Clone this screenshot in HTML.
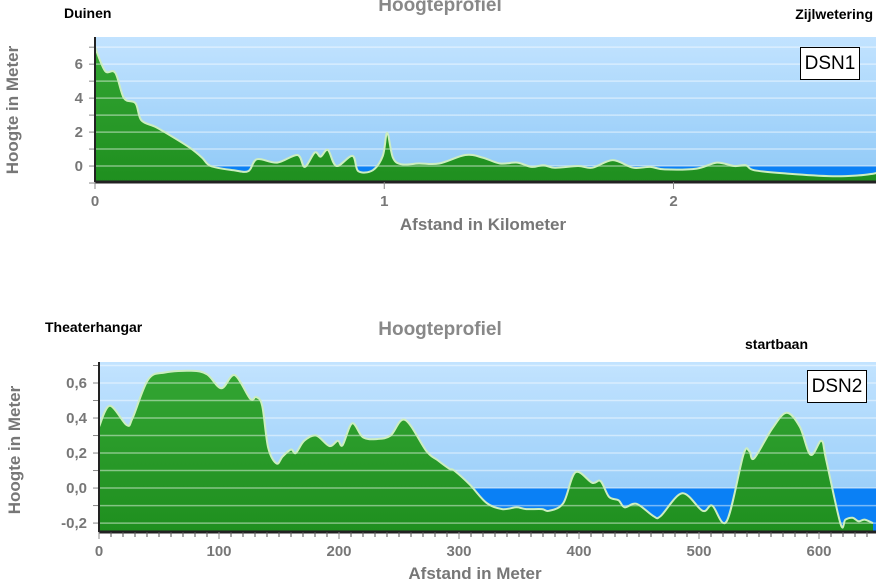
<!DOCTYPE html>
<html><head><meta charset="utf-8"><style>
body{margin:0;background:#fff;font-family:"Liberation Sans",sans-serif}
svg{display:block}
</style></head><body>
<svg id="svg" width="883" height="582" xmlns="http://www.w3.org/2000/svg">
<defs>
<linearGradient id="bg" x1="0" y1="0" x2="0" y2="1"><stop offset="0" stop-color="#c2e3ff"/><stop offset="1" stop-color="#8fc9f7"/></linearGradient>
<linearGradient id="gr" x1="0" y1="0" x2="0" y2="1"><stop offset="0" stop-color="#33a533"/><stop offset="1" stop-color="#1f8f1f"/></linearGradient>
</defs>
</svg>
<script>
// Chart 1 data (km, m)
const dist1=[0,0.035,0.07,0.10,0.14,0.16,0.21,0.27,0.33,0.37,0.40,0.48,0.53,0.56,0.63,0.70,0.725,0.76,0.78,0.805,0.835,0.89,0.91,0.96,0.995,1.01,1.03,1.06,1.12,1.19,1.28,1.34,1.40,1.46,1.51,1.55,1.59,1.67,1.72,1.79,1.86,1.92,1.97,2.08,2.15,2.21,2.25,2.28,2.40,2.55,2.64,2.69,2.70];
const elev1=[7.0,5.6,5.5,4.0,3.7,2.7,2.3,1.7,1.05,0.5,0,-0.25,-0.3,0.4,0.2,0.65,-0.05,0.8,0.55,0.95,0,0.6,-0.3,-0.25,0.6,1.95,0.5,0.1,0.15,0.15,0.65,0.5,0.15,0.2,-0.05,0.05,-0.1,0,-0.1,0.35,-0.1,-0.05,-0.2,-0.15,0.2,0,0.05,-0.25,-0.45,-0.6,-0.55,-0.45,-0.4];
const xTicks1=[0,1,2];
const yTicks1=[0,2,4,6];
// Chart 2 data (m, m)
const dist2=[0,9,23,28,41,55,77,90,102,113,126,131,136,141,148,153,160,164,171,181,192,199,203,211,220,232,243,255,273,282,292,296,309,323,336,348,356,369,375,387,397,411,418,425,433,438,448,462,468,486,503,511,523,537,542,546,561,573,584,593,602,606,618,622,628,633,638,645];
const elev2=[0.35,0.47,0.36,0.40,0.62,0.66,0.67,0.65,0.57,0.645,0.51,0.52,0.47,0.23,0.14,0.18,0.22,0.2,0.27,0.3,0.24,0.27,0.245,0.37,0.29,0.28,0.3,0.39,0.21,0.16,0.11,0.10,0.02,-0.085,-0.12,-0.11,-0.12,-0.12,-0.13,-0.085,0.09,0.03,0.04,-0.05,-0.07,-0.11,-0.09,-0.16,-0.16,-0.03,-0.13,-0.1,-0.19,0.19,0.21,0.17,0.34,0.43,0.35,0.19,0.27,0.16,-0.205,-0.18,-0.17,-0.19,-0.18,-0.2];
const xTicks2=[0,100,200,300,400,500,600];
const yTicks2=[-0.2,0,0.2,0.4,0.6];

const NS="http://www.w3.org/2000/svg", svg=document.getElementById('svg');
function mk(tag,attrs,parent,text){const e=document.createElementNS(NS,tag);for(const k in attrs)e.setAttribute(k,attrs[k]);if(text!=null)e.textContent=text;(parent||svg).appendChild(e);return e;}
function smooth(P){
  let s='';
  for(let i=0;i<P.length-1;i++){
    const p0=P[Math.max(0,i-1)],p1=P[i],p2=P[i+1],p3=P[Math.min(P.length-1,i+2)];
    const c1=[p1[0]+(p2[0]-p0[0])/6,p1[1]+(p2[1]-p0[1])/6];
    const c2=[p2[0]-(p3[0]-p1[0])/6,p2[1]-(p3[1]-p1[1])/6];
    s+=' C'+c1[0].toFixed(1)+','+c1[1].toFixed(1)+' '+c2[0].toFixed(1)+','+c2[1].toFixed(1)+' '+p2[0].toFixed(1)+','+p2[1].toFixed(1);
  }
  return s;
}
function chart(o){
  const X=v=>o.L+(v-o.x0)*(o.R-o.L)/(o.x1-o.x0);
  const Y=v=>o.B-(v-o.y0)*(o.B-o.T)/(o.y1-o.y0);
  const g=mk('g',{});
  
  
  const bg=mk('rect',{x:o.L,y:o.T,width:o.R-o.L,height:o.B-o.T,fill:'url(#bg)'},g);
  
  
  const wat=mk('rect',{x:o.L,y:Y(0),width:o.R-o.L,height:o.B-Y(0),fill:'#0a80f5'},g);
  
  
  const P=o.d.map((d,i)=>[X(d),Y(o.e[i])]);
  const curve='M'+P[0][0].toFixed(1)+','+P[0][1].toFixed(1)+smooth(P);
  const area=mk('path',{d:'M'+P[0][0]+','+o.B+' L'+P[0][0].toFixed(1)+','+P[0][1].toFixed(1)+smooth(P)+' L'+P[P.length-1][0]+','+o.B+' Z',fill:'url(#gr)'},g);
  
  
  for(let v=o.gs;v<=o.y1+1e-9;v+=o.gstep){
    const gl=mk('line',{x1:o.L,x2:o.R,y1:Y(v),y2:Y(v),stroke:'#fff','stroke-opacity':0.45,'stroke-width':1.5},g);
    
    
    const mt=mk('line',{x1:o.L-6,x2:o.L,y1:Y(v),y2:Y(v),stroke:'#888'},g);
    
    
  }
  const ln=mk('path',{d:curve,fill:'none',stroke:'#cdeec0','stroke-width':2},g);
  
  
  const ya=mk('line',{x1:o.L,x2:o.L,y1:o.T,y2:o.B,stroke:'#222','stroke-width':2},g);
  
  
  const xa=mk('line',{x1:o.L,x2:o.R,y1:o.B,y2:o.B,stroke:'#222','stroke-width':3},g);
  
  
  o.yt.forEach(v=>{
    const t=mk('text',{x:o.L-12,y:Y(v)+5,'text-anchor':'end','font-size':15,'font-weight':'bold',fill:'#777'},g,o.fmt(v));
    
    
  });
  if(o.minor){for(let v=o.x0;v<=o.x1;v+=o.minor){
    const mt=mk('line',{x1:X(v),x2:X(v),y1:o.B,y2:o.B+5,stroke:'#555'},g);
    
    
  }}
  o.xt.forEach(v=>{
    const tk=mk('line',{x1:X(v),x2:X(v),y1:o.B,y2:o.B+7,stroke:'#888'},g);
    
    
    const t=mk('text',{x:X(v),y:o.B+24,'text-anchor':'middle','font-size':15,'font-weight':'bold',fill:'#777'},g,String(v));
    
    
  });
}
chart({name:'chart-dsn1',L:95,R:876,T:37,B:182,x0:0,x1:2.70,y0:-0.94,y1:7.6,d:dist1,e:elev1,xt:xTicks1,yt:yTicks1,gs:-1,gstep:1,fmt:v=>String(v)});
chart({name:'chart-dsn2',L:99,R:876,T:362,B:532,x0:0,x1:647.5,y0:-0.251,y1:0.72,d:dist2,e:elev2,xt:xTicks2,yt:yTicks2,gs:-0.2,gstep:0.1,minor:10,fmt:v=>v.toFixed(1).replace('.',',')});
</script>
<div style="position:absolute;left:0;top:0;width:883px;height:582px;pointer-events:none">
<div style="position:absolute;left:340px;top:-5px;width:200px;text-align:center;font-size:19px;font-weight:bold;color:#888">Hoogteprofiel</div>
<div style="position:absolute;left:64px;top:5px;font-size:14px;font-weight:bold;color:#000">Duinen</div>
<div style="position:absolute;right:10px;top:6px;font-size:14px;font-weight:bold;color:#000">Zijlwetering</div>
<div style="position:absolute;left:800px;top:47px;width:58px;height:31px;border:1px solid #000;background:#fff;font-size:19px;line-height:31px;text-align:center;color:#000">DSN1</div>
<div style="position:absolute;left:333px;top:215px;width:300px;text-align:center;font-size:17px;font-weight:bold;color:#777">Afstand in Kilometer</div>
<div style="position:absolute;left:-62px;top:100px;width:150px;text-align:center;font-size:17px;font-weight:bold;color:#777;transform:rotate(-90deg)">Hoogte in Meter</div>
<div style="position:absolute;left:340px;top:319px;width:200px;text-align:center;font-size:19px;font-weight:bold;color:#888">Hoogteprofiel</div>
<div style="position:absolute;left:45px;top:319px;font-size:14px;font-weight:bold;color:#000">Theaterhangar</div>
<div style="position:absolute;left:745px;top:336px;font-size:14px;font-weight:bold;color:#000">startbaan</div>
<div style="position:absolute;left:807px;top:370px;width:58px;height:31px;border:1px solid #000;background:#fff;font-size:19px;line-height:31px;text-align:center;color:#000">DSN2</div>
<div style="position:absolute;left:325px;top:564px;width:300px;text-align:center;font-size:17px;font-weight:bold;color:#777">Afstand in Meter</div>
<div style="position:absolute;left:-60px;top:440px;width:150px;text-align:center;font-size:17px;font-weight:bold;color:#777;transform:rotate(-90deg)">Hoogte in Meter</div>
</div>
</body></html>
